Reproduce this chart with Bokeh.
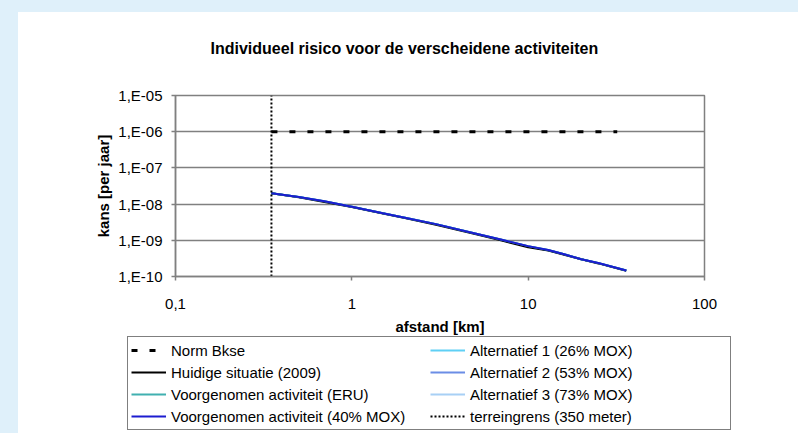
from bokeh.plotting import figure
from bokeh.models import (FixedTicker, CustomJSTickFormatter, Legend, LegendItem,
                          Title, Range1d)
from bokeh.layouts import column
from bokeh.embed import file_html
from bokeh.resources import INLINE

# ---------------- data ----------------
distance_km = [0.35, 0.5, 0.7, 1.0, 1.5, 2.0, 3.0, 5.0, 7.0, 10.0, 13.0, 16.0, 20.0, 25.0, 36.0]
huidige = [2.0e-8, 1.55e-8, 1.15e-8, 8.3e-9, 5.5e-9, 4.1e-9, 2.7e-9, 1.5e-9, 1.0e-9,
           6.4e-10, 5.2e-10, 4.0e-10, 3.0e-10, 2.3e-10, 1.45e-10]
eru = [2.0e-8, 1.58e-8, 1.2e-8, 8.5e-9, 5.6e-9, 4.2e-9, 2.8e-9, 1.55e-9, 1.05e-9,
       6.9e-10, 5.4e-10, 4.1e-10, 3.0e-10, 2.35e-10, 1.47e-10]
mox40 = [2.0e-8, 1.58e-8, 1.2e-8, 8.5e-9, 5.6e-9, 4.2e-9, 2.8e-9, 1.55e-9, 1.05e-9,
         6.9e-10, 5.4e-10, 4.1e-10, 3.0e-10, 2.35e-10, 1.47e-10]
alt1 = [2.0e-8, 1.57e-8, 1.19e-8, 8.4e-9, 5.6e-9, 4.2e-9, 2.8e-9, 1.54e-9, 1.04e-9,
        6.8e-10, 5.3e-10, 4.1e-10, 3.0e-10, 2.34e-10, 1.46e-10]
alt2 = [2.0e-8, 1.57e-8, 1.19e-8, 8.4e-9, 5.6e-9, 4.2e-9, 2.8e-9, 1.54e-9, 1.04e-9,
        6.8e-10, 5.3e-10, 4.1e-10, 3.0e-10, 2.34e-10, 1.46e-10]
alt3 = [2.0e-8, 1.57e-8, 1.19e-8, 8.4e-9, 5.6e-9, 4.2e-9, 2.8e-9, 1.54e-9, 1.04e-9,
        6.8e-10, 5.3e-10, 4.1e-10, 3.0e-10, 2.34e-10, 1.46e-10]
norm_x = [0.35, 32.0]
norm_y = [1e-6, 1e-6]
terrein_x = [0.35, 0.35]
terrein_y = [1e-10, 1e-5]

x_ticks = [0.1, 1, 10, 100]
y_ticks = [1e-10, 1e-9, 1e-8, 1e-7, 1e-6, 1e-5]

title_text = "Individueel risico voor de verscheidene activiteiten"
x_label = "afstand [km]"
y_label = "kans [per jaar]"
labels = ["Norm Bkse", "Huidige situatie (2009)", "Voorgenomen activiteit (ERU)",
          "Voorgenomen activiteit (40% MOX)", "Alternatief 1 (26% MOX)",
          "Alternatief 2 (53% MOX)", "Alternatief 3 (73% MOX)", "terreingrens (350 meter)"]

FONT = "Liberation Sans"
GRID = "#808080"
styles = [
    dict(line_color="black", line_width=3, line_dash="6 12"),   # Norm Bkse
    dict(line_color="black", line_width=2),                     # Huidige
    dict(line_color="#40b0b0", line_width=2),                   # ERU
    dict(line_color="#1c1cd0", line_width=2),                   # 40% MOX
    dict(line_color="#5fd0f5", line_width=2),                   # Alt 1
    dict(line_color="#6b8de6", line_width=2),                   # Alt 2
    dict(line_color="#a8d0f5", line_width=2),                   # Alt 3
    dict(line_color="black", line_width=2, line_dash="2 2"),    # terreingrens
]
all_x = [norm_x, distance_km, distance_km, distance_km, distance_km, distance_km,
         distance_km, terrein_x]
all_y = [norm_y, huidige, eru, mox40, alt1, alt2, alt3, terrein_y]

# ---------------- main chart ----------------
p = figure(width=780, height=330, x_axis_type="log", y_axis_type="log",
           x_range=Range1d(0.1, 100), y_range=Range1d(1e-10, 1e-5),
           output_backend="svg", toolbar_location=None, title=None,
           min_border_left=157, min_border_right=94, min_border_top=83,
           min_border_bottom=66, background_fill_color="white",
           border_fill_color="white")
p.frame_align = False
p.outline_line_color = GRID
p.outline_line_width = 1.5

for ax in (p.xaxis[0], p.yaxis[0]):
    ax.minor_tick_line_color = None
    ax.axis_line_color = GRID
    ax.axis_line_width = 1.5
    ax.major_tick_line_color = GRID
    ax.major_tick_line_width = 1.5
    ax.major_tick_in = 0
    ax.major_tick_out = 4
    ax.major_label_text_font = FONT
    ax.major_label_text_font_size = "15px"
    ax.major_label_text_color = "black"
    ax.axis_label_text_font = FONT
    ax.axis_label_text_font_size = "15px"
    ax.axis_label_text_font_style = "bold"
    ax.axis_label_text_color = "black"

p.xaxis.ticker = FixedTicker(ticks=x_ticks, minor_ticks=[])
p.yaxis.ticker = FixedTicker(ticks=y_ticks, minor_ticks=[])
p.xaxis.formatter = CustomJSTickFormatter(code="return String(tick).replace('.', ',');")
p.yaxis.formatter = CustomJSTickFormatter(code="""
const e = Math.round(Math.log10(tick));
const s = e < 0 ? '-' : '+';
const a = String(Math.abs(e)).padStart(2, '0');
return '1,E' + s + a;
""")
p.xaxis.axis_label = x_label
p.yaxis.axis_label = y_label
p.xaxis.major_label_standoff = 18
p.xaxis.axis_label_standoff = 6
p.yaxis.major_label_standoff = 9
p.yaxis.axis_label_standoff = 3

p.xgrid.grid_line_color = None
p.ygrid.grid_line_color = GRID
p.ygrid.grid_line_width = 1.5

p.add_layout(Title(text=" ", text_font_size="20px"), "above")
p.add_layout(Title(text=title_text, align="left", offset=35, text_font=FONT,
                   text_font_size="16px", text_font_style="bold",
                   text_color="black"), "above")

draw_order = [6, 5, 4, 1, 2, 3, 0, 7]
for i in draw_order:
    p.line(all_x[i], all_y[i], **styles[i])

# ---------------- legend strip (overlaps bottom of chart slightly) ----------------
q = figure(width=780, height=99, output_backend="svg", toolbar_location=None,
           title=None, x_axis_location=None, y_axis_location=None,
           x_range=Range1d(-2, -1), y_range=Range1d(-2, -1),
           min_border=0, background_fill_alpha=0.0, border_fill_alpha=0.0)
q.frame_align = False
q.outline_line_color = None
q.xgrid.grid_line_color = None
q.ygrid.grid_line_color = None
q.styles = {"margin-top": "-8px"}
# proxy renderers carry the same data but lie outside this strip's ranges
proxies = [q.line(all_x[i], all_y[i], **styles[i]) for i in range(8)]

legend = Legend(items=[LegendItem(label=lab, renderers=[r]) for lab, r in zip(labels, proxies)],
                location=(127 - 18, 3), orientation="vertical", nrows=4,
                glyph_width=35, glyph_height=20, label_height=20, spacing=2, padding=3,
                label_standoff=5, label_width=257, label_text_font=FONT,
                label_text_font_size="15px", label_text_color="black", margin=0,
                border_line_color="black", border_line_width=1,
                background_fill_color="white", background_fill_alpha=1.0)
q.add_layout(legend, "center")

inner = column(p, q, spacing=0, styles={"background-color": "white"})
layout = column(inner, styles={"background-color": "#dff0fa", "padding-left": "18px",
                               "padding-top": "12px"})

open("out.html", "w").write(file_html(layout, INLINE))
